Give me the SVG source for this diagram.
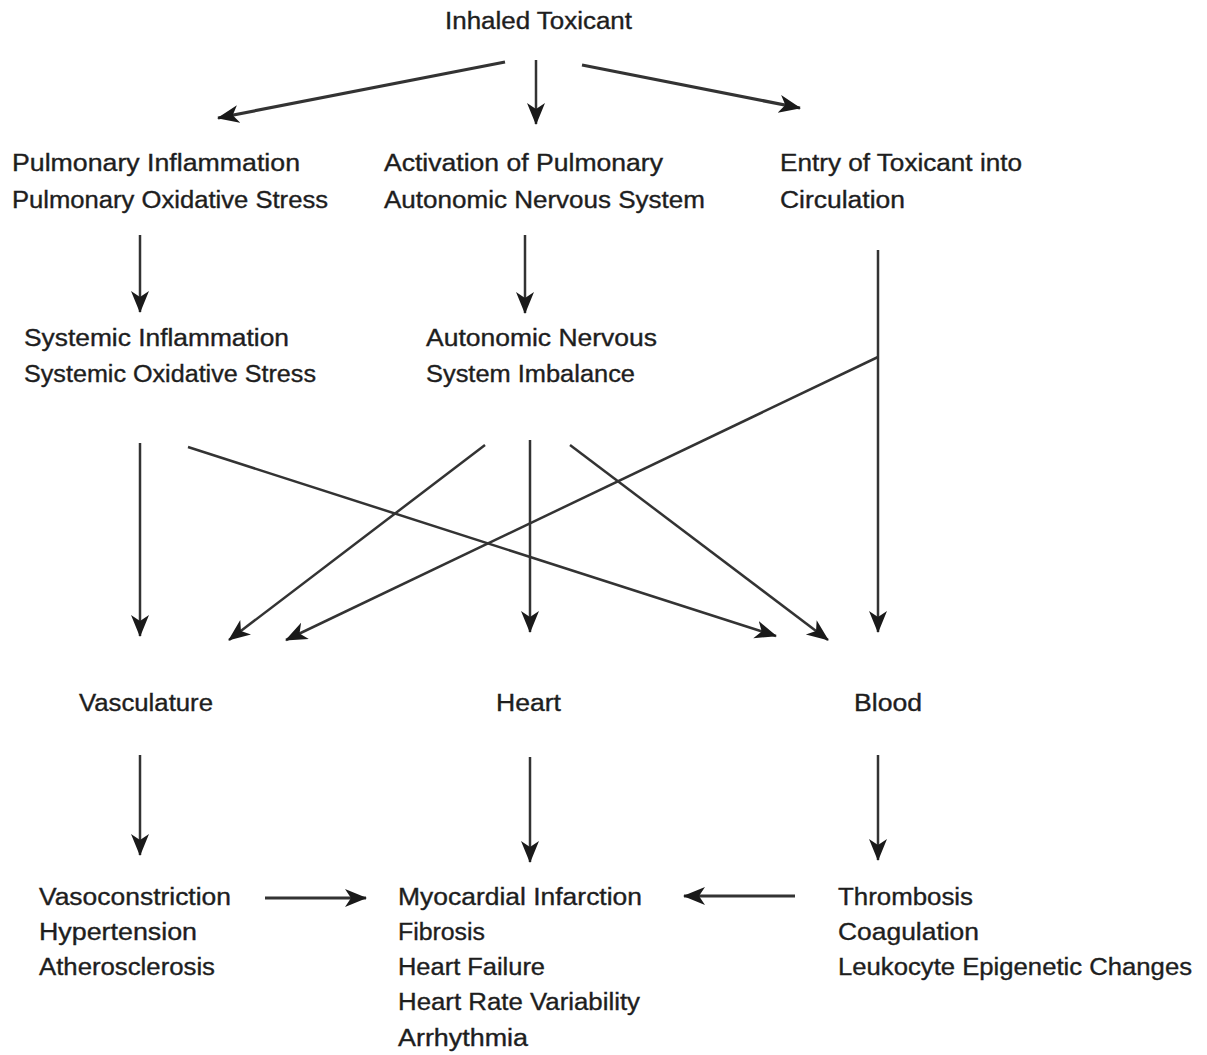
<svg xmlns="http://www.w3.org/2000/svg" width="1207" height="1055" viewBox="0 0 1207 1055">
<style>
text{font-family:"Liberation Sans",Arial,sans-serif;font-size:23px;fill:#1e1e1e;stroke:#1e1e1e;stroke-width:0.35}
.c line{stroke:#333;stroke-width:2.5;fill:none;marker-end:url(#ah)}
.c .t{stroke-width:3.2}
</style>
<defs>
<marker id="ah" markerUnits="userSpaceOnUse" markerWidth="24" markerHeight="20" refX="21" refY="9" orient="auto" viewBox="0 0 24 20">
<path d="M0,0 L22,9 L0,18 L6,9 z" fill="#1a1a1a"/>
</marker>
</defs>
<rect width="1207" height="1055" fill="#fff"/>
<g id="n-inhaled"><text x="445" y="29" textLength="187" lengthAdjust="spacingAndGlyphs">Inhaled Toxicant</text></g>
<g id="n-pulm"><text x="12" y="171" textLength="288" lengthAdjust="spacingAndGlyphs">Pulmonary Inflammation</text><text x="12" y="208" textLength="316" lengthAdjust="spacingAndGlyphs">Pulmonary Oxidative Stress</text></g>
<g id="n-act"><text x="384" y="171" textLength="279" lengthAdjust="spacingAndGlyphs">Activation of Pulmonary</text><text x="384" y="208" textLength="321" lengthAdjust="spacingAndGlyphs">Autonomic Nervous System</text></g>
<g id="n-entry"><text x="780" y="171" textLength="242" lengthAdjust="spacingAndGlyphs">Entry of Toxicant into</text><text x="780" y="208" textLength="125" lengthAdjust="spacingAndGlyphs">Circulation</text></g>
<g id="n-sys"><text x="24" y="346" textLength="265" lengthAdjust="spacingAndGlyphs">Systemic Inflammation</text><text x="24" y="382" textLength="292" lengthAdjust="spacingAndGlyphs">Systemic Oxidative Stress</text></g>
<g id="n-ans"><text x="426" y="346" textLength="231" lengthAdjust="spacingAndGlyphs">Autonomic Nervous</text><text x="426" y="382" textLength="209" lengthAdjust="spacingAndGlyphs">System Imbalance</text></g>
<g id="n-vasc"><text x="79" y="711" textLength="134" lengthAdjust="spacingAndGlyphs">Vasculature</text></g>
<g id="n-heart"><text x="496" y="711" textLength="65" lengthAdjust="spacingAndGlyphs">Heart</text></g>
<g id="n-blood"><text x="854" y="711" textLength="68" lengthAdjust="spacingAndGlyphs">Blood</text></g>
<g id="n-vasc-out"><text x="39" y="905" textLength="192" lengthAdjust="spacingAndGlyphs">Vasoconstriction</text><text x="39" y="940" textLength="158" lengthAdjust="spacingAndGlyphs">Hypertension</text><text x="39" y="975" textLength="176" lengthAdjust="spacingAndGlyphs">Atherosclerosis</text></g>
<g id="n-heart-out"><text x="398" y="905" textLength="244" lengthAdjust="spacingAndGlyphs">Myocardial Infarction</text><text x="398" y="940" textLength="87" lengthAdjust="spacingAndGlyphs">Fibrosis</text><text x="398" y="975" textLength="147" lengthAdjust="spacingAndGlyphs">Heart Failure</text><text x="398" y="1010" textLength="242" lengthAdjust="spacingAndGlyphs">Heart Rate Variability</text><text x="398" y="1046" textLength="130" lengthAdjust="spacingAndGlyphs">Arrhythmia</text></g>
<g id="n-blood-out"><text x="838" y="905" textLength="135" lengthAdjust="spacingAndGlyphs">Thrombosis</text><text x="838" y="940" textLength="141" lengthAdjust="spacingAndGlyphs">Coagulation</text><text x="838" y="975" textLength="354" lengthAdjust="spacingAndGlyphs">Leukocyte Epigenetic Changes</text></g>
<g id="connectors" class="c">
<line class="t" x1="505" y1="62" x2="218" y2="118"/>
<line x1="536" y1="60" x2="536" y2="124"/>
<line class="t" x1="582" y1="65" x2="800" y2="108"/>
<line x1="140" y1="235" x2="140" y2="312"/>
<line x1="525" y1="235" x2="525" y2="313"/>
<line x1="878" y1="250" x2="878" y2="632"/>
<line x1="878" y1="357" x2="286" y2="640"/>
<line x1="140" y1="443" x2="140" y2="636"/>
<line x1="188" y1="447" x2="776" y2="636"/>
<line x1="485" y1="445" x2="229" y2="640"/>
<line x1="530" y1="440" x2="530" y2="632"/>
<line x1="570" y1="445" x2="828" y2="640"/>
<line x1="140" y1="755" x2="140" y2="855"/>
<line x1="530" y1="757" x2="530" y2="862"/>
<line x1="878" y1="755" x2="878" y2="860"/>
<line class="t" x1="265" y1="898" x2="366" y2="898"/>
<line class="t" x1="795" y1="896" x2="684" y2="896"/>
</g>
</svg>
